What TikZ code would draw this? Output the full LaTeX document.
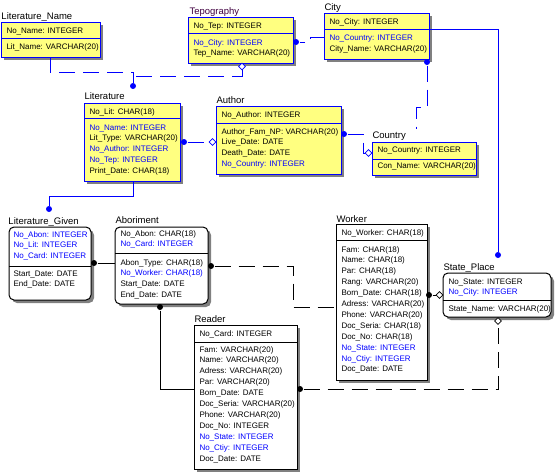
\documentclass[tikz,border=0pt]{standalone}
\usepackage{fontspec}
\setmainfont{Liberation Sans}
\usetikzlibrary{shadows,shapes.geometric}
\definecolor{bl}{HTML}{0000FF}
\colorlet{bk}{black}
\definecolor{yel}{HTML}{FFFF80}
\definecolor{pur}{HTML}{400040}
\newcommand\erfields[4]{\foreach \c/\t [count=\i from 0] in {#4}{\node[fld,text=\c] (#1\i) at (#2,#3+\i*10.9) {\t};}}
\begin{document}
\begin{tikzpicture}[x=1pt,y=-1pt,line width=1pt,
  ent/.style={draw,anchor=north west,inner sep=0pt,outer sep=0pt,general shadow={fill=black!50,shadow xshift=3pt,shadow yshift=-3pt}},
  yent/.style={ent,draw=bl,fill=yel},
  went/.style={ent,draw=black,fill=white},
  rent/.style={went,rounded corners=5pt},
  ttl/.style={anchor=base west,inner sep=0pt,font=\fontsize{9.5}{11}\selectfont},
  fld/.style={anchor=base west,inner sep=0pt,font=\fontsize{8}{9}\selectfont},
  dot/.style={circle,inner sep=0pt,minimum size=6pt},
  hdia/.style={diamond,draw,fill=white,inner sep=0pt,minimum size=7pt,line width=0.8pt},
  idb/.style={draw=bl},
  nidb/.style={draw=bl,dash pattern=on 16pt off 8pt},
  idk/.style={draw=black},
  nidk/.style={draw=black,dash pattern=on 16pt off 8pt}]
\useasboundingbox (0,0) rectangle (555,472);

% ---------- entities ----------
% Literature_Name
\node[yent,minimum width=99pt,minimum height=35pt] (ln) at (1,22) {};
\draw[bl] (1,38) -- (100,38);
\node[ttl] (lnT) at (1,19) {Literature\_Name};
\erfields{lnA}{6}{33}{bk/No\_Name: INTEGER}
\erfields{lnB}{6}{49}{bk/Lit\_Name: VARCHAR(20)}
% Tepography
\node[yent,minimum width=105pt,minimum height=46pt] (tep) at (188,17) {};
\draw[bl] (188,33) -- (293,33);
\node[ttl,text=pur] (tepT) at (189,14.5) {Tepography};
\erfields{tpA}{193}{28}{bk/No\_Tep: INTEGER}
\erfields{tpB}{193}{45}{bl/No\_City: INTEGER,bk/Tep\_Name: VARCHAR(20)}
% City
\node[yent,minimum width=105pt,minimum height=46pt] (city) at (324,13) {};
\draw[bl] (324,29) -- (429,29);
\node[ttl] (cityT) at (324,10) {City};
\erfields{ctA}{329}{24}{bk/No\_City: INTEGER}
\erfields{ctB}{329}{40.5}{bl/No\_Country: INTEGER,bk/City\_Name: VARCHAR(20)}
% Literature
\node[yent,minimum width=96pt,minimum height=78pt] (lit) at (84,103) {};
\draw[bl] (84,118) -- (180,118);
\node[ttl] (litT) at (84,99.5) {Literature};
\erfields{ltA}{89}{114}{bk/No\_Lit: CHAR(18)}
\erfields{ltB}{89}{130}{bl/No\_Name: INTEGER,bk/Lit\_Type: VARCHAR(20),bl/No\_Author: INTEGER,bl/No\_Tep: INTEGER,bk/Print\_Date: CHAR(18)}
% Author
\node[yent,minimum width=125pt,minimum height=68pt] (aut) at (216,106) {};
\draw[bl] (216,123) -- (341,123);
\node[ttl] (autT) at (216,103) {Author};
\erfields{auA}{221}{117}{bk/No\_Author: INTEGER}
\erfields{auB}{221}{134}{bk/Author\_Fam\_NP: VARCHAR(20),bk/Live\_Date: DATE,bk/Death\_Date: DATE,bl/No\_Country: INTEGER}
% Country
\node[yent,minimum width=104pt,minimum height=33pt] (cty) at (372,142) {};
\draw[bl] (372,159) -- (476,159);
\node[ttl] (ctyT) at (372,138.5) {Country};
\erfields{coA}{377}{152}{bk/No\_Country: INTEGER}
\erfields{coB}{377}{168}{bk/Con\_Name: VARCHAR(20)}
% Literature_Given
\node[rent,minimum width=82pt,minimum height=73pt] (lg) at (9,227) {};
\draw (9,266) -- (91,266);
\node[ttl] (lgT) at (8,224.5) {Literature\_Given};
\erfields{lgA}{13}{237}{bl/No\_Abon: INTEGER,bl/No\_Lit: INTEGER,bl/No\_Card: INTEGER}
\erfields{lgB}{13}{276}{bk/Start\_Date: DATE,bk/End\_Date: DATE}
% Aboriment
\node[rent,minimum width=93pt,minimum height=77pt] (ab) at (115,227) {};
\draw (115,253) -- (208,253);
\node[ttl] (abT) at (115,223) {Aboriment};
\erfields{abA}{120}{236}{bk/No\_Abon: CHAR(18),bl/No\_Card: INTEGER}
\erfields{abB}{120}{265}{bk/Abon\_Type: CHAR(18),bl/No\_Worker: CHAR(18),bk/Start\_Date: DATE,bk/End\_Date: DATE}
% Worker
\node[went,minimum width=91pt,minimum height=156pt] (wk) at (336,224) {};
\draw (336,240) -- (427,240);
\node[ttl] (wkT) at (336,222) {Worker};
\erfields{wkA}{341}{235}{bk/No\_Worker: CHAR(18)}
\erfields{wkB}{341}{252}{bk/Fam: CHAR(18),bk/Name: CHAR(18),bk/Par: CHAR(18),bk/Rang: VARCHAR(20),bk/Born\_Date: CHAR(18),bk/Adress: VARCHAR(20),bk/Phone: VARCHAR(20),bk/Doc\_Seria: CHAR(18),bk/Doc\_No: CHAR(18),bl/No\_State: INTEGER,bl/No\_Ctiy: INTEGER,bk/Doc\_Date: DATE}
% State_Place
\node[rent,minimum width=108pt,minimum height=44pt] (st) at (443,273) {};
\draw (443,300) -- (551,300);
\node[ttl] (stT) at (443,270) {State\_Place};
\erfields{stA}{448}{284}{bk/No\_State: INTEGER,bl/No\_City: INTEGER}
\erfields{stB}{448}{311}{bk/State\_Name: VARCHAR(20)}
% Reader
\node[went,minimum width=103pt,minimum height=144pt] (rd) at (194,325) {};
\draw (194,342) -- (297,342);
\node[ttl] (rdT) at (194,322) {Reader};
\erfields{rdA}{199}{336}{bk/No\_Card: INTEGER}
\erfields{rdB}{199}{352}{bk/Fam: VARCHAR(20),bk/Name: VARCHAR(20),bk/Adress: VARCHAR(20),bk/Par: VARCHAR(20),bk/Born\_Date: DATE,bk/Doc\_Seria: VARCHAR(20),bk/Phone: VARCHAR(20),bk/Doc\_No: INTEGER,bl/No\_State: INTEGER,bl/No\_Ctiy: INTEGER,bk/Doc\_Date: DATE}

% ---------- end symbols ----------
\node[dot,fill=bl] (d1) at (133,86) {};
\node[dot,fill=bl] (d2) at (296,42) {};
\node[dot,fill=bl] (d3) at (427,62) {};
\node[dot,fill=bl] (d4) at (498,255) {};
\node[dot,fill=bl] (d5) at (184,142) {};
\node[dot,fill=bl] (d6) at (344,134) {};
\node[dot,fill=bl] (d7) at (49,209) {};
\node[dot,fill=black] (d8) at (94,263) {};
\node[dot,fill=black] (d9) at (211,266) {};
\node[dot,fill=black] (d10) at (160,307) {};
\node[dot,fill=black] (d11) at (300,389) {};
\node[dot,fill=black] (d12) at (429,295) {};
\node[hdia,draw=bl] (h1) at (242,66.5) {};
\node[hdia,draw=bl] (h2) at (212.5,142) {};
\node[hdia,draw=bl] (h3) at (368.5,153) {};
\node[hdia,draw=black] (h4) at (498,321) {};
\node[hdia,draw=black] (h5) at (439.5,295) {};

% ---------- connector ends on entity edges ----------
\coordinate (lnS) at (50,57);
\coordinate (j1) at (133,76);
\coordinate (cityW) at (324,37);
\coordinate (cityE) at (429,29);
\coordinate (ctyN) at (416,129);
\coordinate (litS) at (133,181);
\coordinate (abW) at (115,263);
\coordinate (wkW) at (336,307);
\coordinate (rdW) at (194,389);

% ---------- connectors ----------
\draw[nidb] (lnS) -- (50,72) -- (133,72) -- (d1);
\draw[nidb] (h1) -- (242,76) -- (j1);
\draw[nidb] (cityW) -- (310,37) -- (310,42) -- (d2);
\draw[nidb] (d3) -- (427,107) -- (416,107) -- (ctyN);
\draw[idb] (cityE) -- (498,29) -- (d4);
\draw[nidb] (d5) -- (h2);
\draw[nidb] (d6) -- (363,134) -- (363,153) -- (h3);
\draw[idb] (litS) -- (133,196) -- (49,196) -- (d7);
\draw[idk] (d8) -- (abW);
\draw[nidk] (d9) -- (293,266) -- (293,307) -- (wkW);
\draw[idk] (d10) -- (160,389) -- (rdW);
\draw[nidk] (d11) -- (498,389) -- (h4);
\draw[nidk,dash pattern=on 6pt off 2pt] (d12) -- (h5);
\end{tikzpicture}
\end{document}
